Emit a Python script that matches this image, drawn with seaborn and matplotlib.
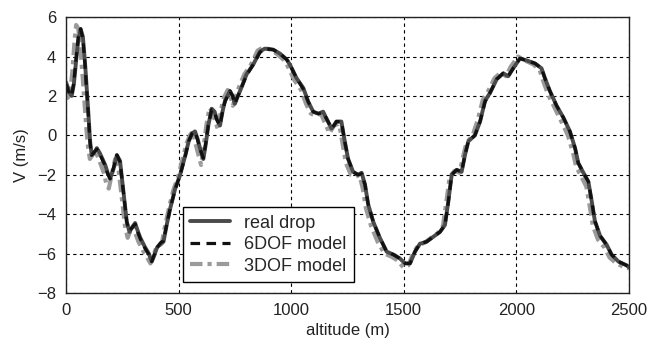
import pandas as pd
import matplotlib
matplotlib.use("Agg")
import matplotlib.pyplot as plt
import seaborn as sns

sns.set_style("white")
plt.rcParams["font.family"] = ["Liberation Sans", "DejaVu Sans"]

# altitude samples (m) and velocities (m/s)
alt_real = [0, 15, 25, 35, 45, 55, 65, 75, 85, 100, 107, 114, 125, 137, 150, 162, 174, 185, 196,
            211, 226, 240, 255, 270, 282, 292, 307, 320, 330, 352, 368, 381, 392, 404, 420, 433,
            448, 463, 485, 507, 530, 545, 560, 573, 585, 595, 610, 620, 632, 647, 660, 669, 684,
            695, 706, 728, 740, 750, 760, 773, 802, 832, 861, 883, 920, 950, 980, 994, 1024, 1054,
            1076, 1098, 1120, 1142, 1157, 1179, 1190, 1201, 1223, 1238, 1253, 1275, 1297, 1313,
            1328, 1342, 1365, 1394, 1424, 1454, 1483, 1506, 1528, 1550, 1572, 1601, 1631, 1661,
            1683, 1698, 1713, 1735, 1757, 1772, 1787, 1816, 1839, 1861, 1883, 1913, 1942, 1964,
            1986, 2016, 2046, 2083, 2112, 2127, 2149, 2179, 2209, 2238, 2261, 2275, 2298, 2320,
            2335, 2349, 2372, 2401, 2423, 2453, 2490, 2500]
v_real = [2.7, 2.2, 2.0, 2.6, 3.8, 4.9, 5.4, 5.0, 3.6, 1.0, -0.3, -1.0, -0.9, -0.65, -0.9, -1.2,
          -1.5, -1.9, -2.2, -1.7, -1.0, -1.3, -2.85, -4.4, -4.9, -4.7, -4.45, -4.9, -5.2, -5.7,
          -6.0, -6.4, -6.1, -5.7, -5.5, -5.4, -4.5, -3.7, -2.7, -2.0, -1.0, -0.3, 0.1, 0.2, -0.2,
          -0.65, -1.2, -0.5, 0.5, 1.35, 1.2, 0.85, 0.5, 1.2, 1.75, 2.25, 2.0, 1.6, 1.9, 2.25, 3.1,
          3.6, 4.25, 4.4, 4.35, 4.15, 3.85, 3.6, 2.9, 2.4, 1.7, 1.2, 1.1, 1.2, 0.85, 0.35, 0.5,
          0.7, 0.7, -0.3, -1.2, -1.85, -2.0, -1.9, -2.5, -3.5, -4.4, -5.2, -5.9, -6.05, -6.25,
          -6.5, -6.5, -5.9, -5.5, -5.4, -5.15, -4.9, -4.55, -3.35, -2.0, -1.75, -1.85, -1.0, -0.3,
          0.0, 0.7, 1.75, 2.15, 2.85, 3.15, 3.0, 3.4, 3.9, 3.8, 3.65, 3.4, 2.9, 2.25, 1.5, 0.9,
          0.2, -0.65, -1.4, -1.9, -2.35, -3.35, -4.35, -5.1, -5.55, -6.05, -6.4, -6.6, -6.7]
v_6dof = [2.6, 2.1, 2.0, 2.7, 3.9, 5.0, 5.4, 4.9, 3.5, 0.9, -0.4, -1.0, -0.85, -0.7, -0.95, -1.25,
          -1.55, -1.95, -2.2, -1.65, -1.0, -1.35, -2.9, -4.4, -4.85, -4.7, -4.5, -4.95, -5.25,
          -5.75, -6.05, -6.4, -6.05, -5.7, -5.45, -5.35, -4.5, -3.7, -2.75, -2.0, -1.05, -0.3, 0.1,
          0.2, -0.25, -0.7, -1.15, -0.45, 0.5, 1.3, 1.2, 0.8, 0.5, 1.2, 1.7, 2.25, 2.0, 1.6, 1.9,
          2.25, 3.05, 3.6, 4.2, 4.4, 4.35, 4.15, 3.85, 3.6, 2.9, 2.35, 1.7, 1.2, 1.1, 1.15, 0.85,
          0.35, 0.5, 0.7, 0.7, -0.3, -1.2, -1.85, -2.0, -1.95, -2.5, -3.5, -4.4, -5.2, -5.9,
          -6.05, -6.25, -6.5, -6.5, -5.9, -5.5, -5.4, -5.15, -4.9, -4.55, -3.4, -2.0, -1.75, -1.85,
          -1.0, -0.3, 0.0, 0.7, 1.7, 2.15, 2.85, 3.15, 3.0, 3.4, 3.9, 3.8, 3.65, 3.4, 2.9, 2.25,
          1.5, 0.9, 0.2, -0.65, -1.4, -1.9, -2.35, -3.35, -4.35, -5.1, -5.55, -6.05, -6.4, -6.6,
          -6.7]

alt_3dof = [0, 8, 18, 28, 38, 45, 55, 65, 75, 90, 98, 106, 118, 130, 142, 155, 168, 180, 190,
            203, 218, 232, 247, 262, 274, 284, 298, 312, 322, 344, 360, 375, 386, 397, 412, 425,
            440, 455, 476, 498, 520, 536, 550, 563, 575, 586, 600, 610, 622, 637, 650, 660, 675,
            686, 697, 718, 730, 741, 752, 763, 792, 822, 851, 873, 910, 940, 970, 985, 1014, 1044,
            1066, 1088, 1110, 1132, 1147, 1170, 1180, 1191, 1213, 1228, 1243, 1265, 1287, 1303,
            1318, 1332, 1355, 1384, 1414, 1444, 1473, 1498, 1520, 1541, 1563, 1592, 1622, 1652,
            1674, 1689, 1704, 1726, 1748, 1763, 1778, 1806, 1829, 1851, 1873, 1903, 1932, 1954,
            1976, 2008, 2038, 2075, 2104, 2118, 2140, 2170, 2200, 2229, 2252, 2266, 2289, 2311,
            2326, 2340, 2363, 2392, 2414, 2444, 2482, 2500]
v_3dof = [2.4, 1.9, 2.2, 3.2, 4.8, 5.6, 5.4, 4.3, 2.8, 0.4, -0.6, -1.2, -1.0, -0.8, -1.1, -1.5,
          -1.9, -2.5, -2.7, -2.0, -1.2, -1.6, -3.1, -4.6, -5.2, -4.9, -4.6, -5.1, -5.4, -5.9,
          -6.2, -6.5, -6.2, -5.8, -5.6, -5.5, -4.6, -3.8, -2.8, -2.1, -1.1, -0.4, 0.0, 0.2, -0.4,
          -0.9, -1.5, -0.7, 0.4, 1.4, 1.2, 0.8, 0.3, 1.1, 1.8, 2.3, 2.0, 1.5, 1.9, 2.3, 3.1, 3.6,
          4.3, 4.45, 4.35, 4.1, 3.8, 3.5, 2.8, 2.3, 1.6, 1.1, 1.0, 1.1, 0.7, 0.1, 0.3, 0.5, 0.6,
          -0.4, -1.4, -2.0, -2.1, -2.0, -2.7, -3.7, -4.6, -5.4, -6.0, -6.15, -6.35, -6.7, -6.6,
          -6.0, -5.6, -5.45, -5.2, -4.95, -4.6, -3.4, -2.1, -1.8, -1.9, -1.1, -0.4, 0.0, 0.8, 1.8,
          2.2, 2.9, 3.2, 3.0, 3.5, 4.0, 3.8, 3.6, 3.3, 2.8, 2.1, 1.4, 0.7, 0.0, -0.9, -1.6, -2.1,
          -2.6, -3.6, -4.6, -5.3, -5.7, -6.2, -6.5, -6.7, -6.75]

df_real = pd.DataFrame({"altitude": alt_real, "V": v_real})
df_6dof = pd.DataFrame({"altitude": alt_real, "V": v_6dof})
df_3dof = pd.DataFrame({"altitude": alt_3dof, "V": v_3dof})

fig, ax = plt.subplots(figsize=(6.62, 3.42), dpi=100)
fig.subplots_adjust(left=0.0997, right=0.950, bottom=0.1433, top=0.950)

sns.lineplot(data=df_3dof, x="altitude", y="V", ax=ax, color="#9a9a9a", lw=3.0,
             linestyle=(0, (3, 1.2, 1, 1.2)), sort=False, estimator=None, label="3DOF model")
sns.lineplot(data=df_real, x="altitude", y="V", ax=ax, color="#4a4a4a", lw=2.8,
             sort=False, estimator=None, label="real drop")
sns.lineplot(data=df_6dof, x="altitude", y="V", ax=ax, color="#111111", lw=2.3,
             linestyle=(0, (3, 2)), sort=False, estimator=None, label="6DOF model")

ax.set_xlim(0, 2500)
ax.set_ylim(-8, 6)
ax.set_xticks(range(0, 2501, 500))
ax.set_yticks(range(-8, 7, 2))
ax.grid(True, color="black", linestyle=(0, (3, 3)), lw=0.8)
ax.tick_params(labelsize=12, length=0, pad=7, labelcolor="#222222")
for s in ax.spines.values():
    s.set_color("#222222")
    s.set_linewidth(1.0)

ax.set_xlabel("altitude (m)", fontsize=12, labelpad=4, color="#222222")
ax.set_ylabel("V (m/s)", fontsize=12, labelpad=6, color="#222222")

h, l = ax.get_legend_handles_labels()
order = [l.index("real drop"), l.index("6DOF model"), l.index("3DOF model")]
leg = ax.legend([h[i] for i in order], [l[i] for i in order], loc="lower left",
                bbox_to_anchor=(0.208, 0.04), fontsize=13, frameon=True, fancybox=False,
                edgecolor="black", framealpha=1, borderaxespad=0, handlelength=2.2,
                handletextpad=0.8, labelspacing=0.25, borderpad=0.4)
leg.get_frame().set_linewidth(1.0)

plt.savefig("out.png", dpi=100)
